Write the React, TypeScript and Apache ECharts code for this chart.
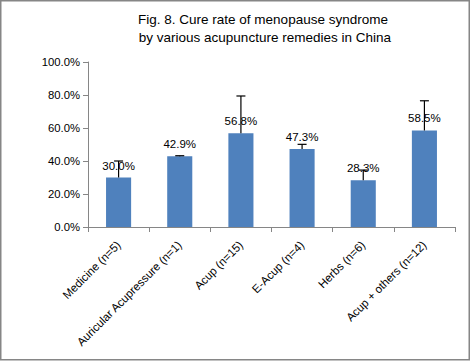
import React, { useEffect, useRef } from "react";
import * as echarts from "echarts";

const categories = [
  "Medicine (n=5)",
  "Auricular Acupressure (n=1)",
  "Acup (n=15)",
  "E-Acup (n=4)",
  "Herbs (n=6)",
  "Acup + others (n=12)",
];
const cureRates = [30.0, 42.9, 56.8, 47.3, 28.3, 58.5];
const errorPlus = [10.0, 0.3, 22.6, 2.8, 6.2, 18.0];
const yTicks = { min: 0, max: 100, interval: 20 };

const FONT = "'Liberation Sans', Arial, sans-serif";

export default function App() {
  const ref = useRef<HTMLDivElement>(null);
  useEffect(() => {
    if (!ref.current) return;
    const chart = echarts.init(ref.current, undefined, { renderer: "svg" });
    const errData = cureRates.map((v, i) => [i, v, errorPlus[i]]);
    chart.setOption({
      animation: false,
      backgroundColor: "#ffffff",
      textStyle: { fontFamily: FONT },
      graphic: [
        {
          type: "rect",
          shape: { x: 0.75, y: 0.75, width: 468.5, height: 359 },
          style: { fill: "none", stroke: "#868686", lineWidth: 1.5 },
          silent: true,
        },
        {
          type: "text",
          x: 263,
          y: 10,
          style: {
            text: "Fig. 8. Cure rate of menopause syndrome\n by various acupuncture remedies in China",
            textAlign: "center",
            textVerticalAlign: "top",
            fontFamily: FONT,
            fontSize: 13.5,
            lineHeight: 18,
            fill: "#000000",
          },
        },
      ],
      grid: { left: 88, right: 16, top: 62, bottom: 134, containLabel: false },
      xAxis: {
        type: "category",
        data: categories,
        axisLine: { lineStyle: { color: "#868686", width: 1 } },
        axisTick: { show: true, length: 5, lineStyle: { color: "#868686" } },
        axisLabel: {
          rotate: 45,
          interval: 0,
          margin: 16,
          fontSize: 11.5,
          color: "#000000",
          fontFamily: FONT,
        },
      },
      yAxis: {
        type: "value",
        min: yTicks.min,
        max: yTicks.max,
        interval: yTicks.interval,
        splitLine: { show: false },
        axisLine: { show: true, lineStyle: { color: "#868686", width: 1 } },
        axisTick: { show: true, length: 5, lineStyle: { color: "#868686" } },
        axisLabel: {
          margin: 8,
          fontSize: 11.3,
          color: "#000000",
          fontFamily: FONT,
          formatter: (v: number) => v.toFixed(1) + "%",
        },
      },
      series: [
        {
          type: "bar",
          data: cureRates,
          barWidth: "41%",
          itemStyle: { color: "#4F81BD" },
          z: 2,
          label: {
            show: true,
            position: "top",
            distance: 6,
            fontSize: 11.5,
            color: "#000000",
            fontFamily: FONT,
            formatter: (p: any) => Number(p.value).toFixed(1) + "%",
          },
        },
        {
          type: "custom",
          z: 10,
          data: errData,
          encode: { x: 0, y: 1 },
          renderItem: (params: any, api: any) => {
            const idx = api.value(0);
            const v = api.value(1);
            const e = api.value(2);
            const base = api.coord([idx, v]);
            const top = api.coord([idx, v + e]);
            const half = 4.5;
            return {
              type: "group",
              children: [
                {
                  type: "line",
                  shape: { x1: base[0], y1: base[1], x2: top[0], y2: top[1] },
                  style: { stroke: "#000000", lineWidth: 1.2 },
                },
                {
                  type: "line",
                  shape: { x1: top[0] - half, y1: top[1], x2: top[0] + half, y2: top[1] },
                  style: { stroke: "#000000", lineWidth: 1.2 },
                },
              ],
            };
          },
        },
      ],
    });
    return () => chart.dispose();
  }, []);
  return (
    <div
      ref={ref}
      style={{ position: "fixed", left: 0, top: 0, width: 471, height: 361 }}
    />
  );
}
